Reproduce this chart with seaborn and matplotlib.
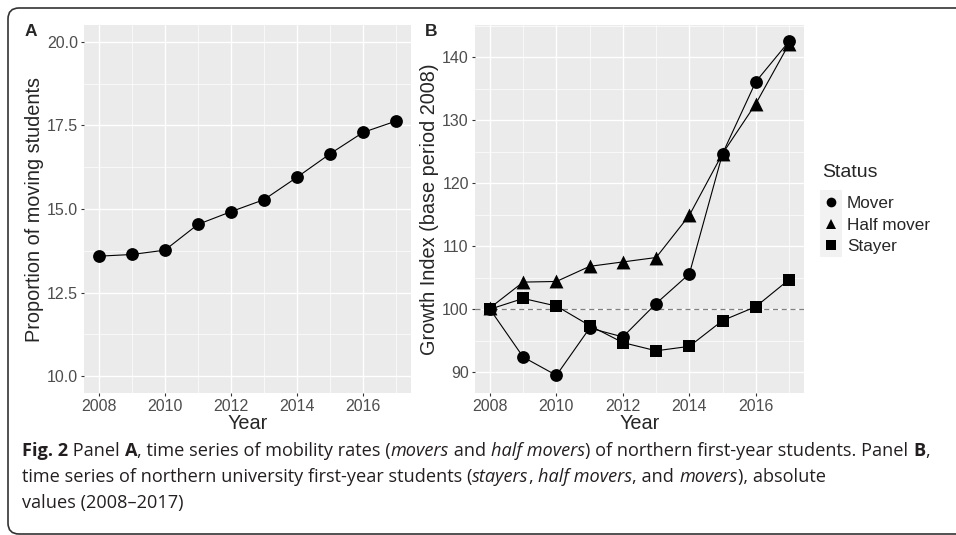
import pandas as pd
import matplotlib
matplotlib.use('Agg')
import matplotlib.pyplot as plt
import seaborn as sns
from matplotlib.patches import FancyBboxPatch, Rectangle
from matplotlib.lines import Line2D

# data
years = list(range(2008, 2018))
share_moving = [13.59, 13.64, 13.77, 14.54, 14.92, 15.28, 15.95, 16.65, 17.29, 17.63]

status_levels = ['Mover', 'Half mover', 'Stayer']
mover = [100.0, 92.4, 89.5, 97.0, 95.6, 100.9, 105.6, 124.7, 136.1, 142.5]
half_mover = [100.2, 104.3, 104.4, 106.8, 107.5, 108.2, 114.9, 124.7, 132.6, 142.1]
stayer = [100.0, 101.7, 100.5, 97.4, 94.7, 93.4, 94.1, 98.2, 100.4, 104.7]

df_a = pd.DataFrame({'Year': years, 'Share': share_moving})
df_b = pd.DataFrame({
    'Year': years * 3,
    'Index': mover + half_mover + stayer,
    'Status': sum([[s] * len(years) for s in status_levels], []),
})

sns.set_theme(style='darkgrid', rc={
    'axes.facecolor': '#EBEBEB',
    'grid.color': 'white',
    'axes.edgecolor': '#EBEBEB',
    'xtick.color': '#333333',
    'ytick.color': '#333333',
    'xtick.major.size': 2.5,
    'ytick.major.size': 2.5,
    'xtick.major.width': 0.8,
    'ytick.major.width': 0.8,
    'xtick.bottom': True,
    'ytick.left': True,
    'xtick.major.pad': 2,
    'ytick.major.pad': 2,
})
plt.rcParams['font.family'] = ['Liberation Sans', 'DejaVu Sans']

fig = plt.figure(figsize=(9.56, 5.35), dpi=100)
W, H = 956, 535


def px_axes(left, top, right, bottom):
    return fig.add_axes([left / W, 1 - bottom / H, (right - left) / W, (bottom - top) / H])


ax_a = px_axes(84, 25, 411, 393)
ax_b = px_axes(475, 25, 804, 393)

markers = {'Mover': 'o', 'Half mover': '^', 'Stayer': 's'}
sizes = {'Mover': 85, 'Half mover': 100, 'Stayer': 75}

# panel A
sns.lineplot(data=df_a, x='Year', y='Share', color='black', linewidth=0.8, ax=ax_a)
sns.scatterplot(data=df_a, x='Year', y='Share', color='black', s=85, linewidth=0, ax=ax_a, zorder=3)
ax_a.set_ylim(9.5, 20.5)
ax_a.set_yticks([10.0, 12.5, 15.0, 17.5, 20.0])
ax_a.set_yticklabels(['10.0', '12.5', '15.0', '17.5', '20.0'])
ax_a.set_yticks([11.25, 13.75, 16.25, 18.75], minor=True)
ax_a.set_ylabel('Proportion of moving students', fontsize=14.3, labelpad=2)

# panel B
ax_b.axhline(100, color='#7f7f7f', linestyle=(0, (4, 3)), linewidth=0.9, zorder=1)
sns.lineplot(data=df_b, x='Year', y='Index', units='Status', estimator=None,
             color='black', linewidth=0.8, legend=False, ax=ax_b)
for st in status_levels:
    sub = df_b[df_b['Status'] == st]
    sns.scatterplot(data=sub, x='Year', y='Index', marker=markers[st], s=sizes[st],
                    color='black', linewidth=0, ax=ax_b, zorder=3)
ax_b.set_ylim(86.7, 145.1)
ax_b.set_yticks([90, 100, 110, 120, 130, 140])
ax_b.set_yticks([95, 105, 115, 125, 135, 145], minor=True)
ax_b.set_ylabel('Growth Index (base period 2008)', fontsize=14.3, labelpad=2)

for ax in (ax_a, ax_b):
    ax.set_xlim(2007.55, 2017.45)
    ax.set_xticks([2008, 2010, 2012, 2014, 2016])
    ax.set_xticks([2009, 2011, 2013, 2015, 2017], minor=True)
    ax.set_xlabel('Year', fontsize=14.3, labelpad=0)
    ax.tick_params(axis='both', which='major', labelsize=11.5, labelcolor='#4D4D4D')
    ax.tick_params(axis='both', which='minor', length=0)
    ax.grid(which='major', color='white', linewidth=1.0)
    ax.grid(which='minor', color='white', linewidth=0.5)
    for sp in ax.spines.values():
        sp.set_visible(False)

# legend (markers only, grey key background like ggplot)
fig.add_artist(Rectangle((820, H - 257), 22, 67, transform=None,
                         facecolor='#F2F2F2', edgecolor='none', zorder=0))
fig.text(822 / W, 1 - 172 / H, 'Status', fontsize=14, va='center', ha='left')
handles = [Line2D([], [], linestyle='none', marker=markers[s], color='black',
                  markersize=7, markeredgewidth=0) for s in status_levels]
fig.legend(handles, status_levels, loc='upper left',
           bbox_to_anchor=(805 / W, 1 - 181 / H), frameon=False,
           fontsize=12.3, handlelength=1.2,
           handletextpad=0.35, labelspacing=0.38)

fig.text(25 / W, 1 - 32 / H, 'A', fontsize=12.5, fontweight='bold', va='center')
fig.text(425 / W, 1 - 32 / H, 'B', fontsize=12.5, fontweight='bold', va='center')

# caption with mixed styles, pieces chained one after another
cap_font = ['Open Sans', 'DejaVu Sans']
cap_size = 13.1
lines = [
    [('Fig. 2', 'bold', 'normal'), (' Panel ', 'normal', 'normal'), ('A', 'bold', 'normal'),
     (', time series of mobility rates (', 'normal', 'normal'), ('movers', 'normal', 'italic'),
     (' and ', 'normal', 'normal'), ('half movers', 'normal', 'italic'),
     (') of northern first-year students. Panel ', 'normal', 'normal'), ('B', 'bold', 'normal'),
     (',', 'normal', 'normal')],
    [('time series of northern university first-year students (', 'normal', 'normal'),
     ('stayers', 'normal', 'italic'), (', ', 'normal', 'normal'), ('half movers', 'normal', 'italic'),
     (', and ', 'normal', 'normal'), ('movers', 'normal', 'italic'), ('), absolute', 'normal', 'normal')],
    [('values (2008\u20132017)', 'normal', 'normal')],
]
line_y = [451, 477, 503]
for parts, yy in zip(lines, line_y):
    last = None
    for txt, wt, stl in parts:
        kw = dict(fontsize=cap_size, fontweight=wt, fontstyle=stl, family=cap_font, color='#231F20')
        if last is None:
            last = fig.text(22 / W, 1 - yy / H, txt, va='center', ha='left', **kw)
        else:
            last = ax_b.annotate(txt, xy=(1, 0), xycoords=last, va='bottom', ha='left',
                                 annotation_clip=False, **kw)

border = FancyBboxPatch((8, 1), 1000, 526, boxstyle='round,pad=0,rounding_size=11',
                        transform=None, fill=False, edgecolor='#333333', linewidth=1.2)
fig.add_artist(border)

fig.savefig('out.png', dpi=100)
